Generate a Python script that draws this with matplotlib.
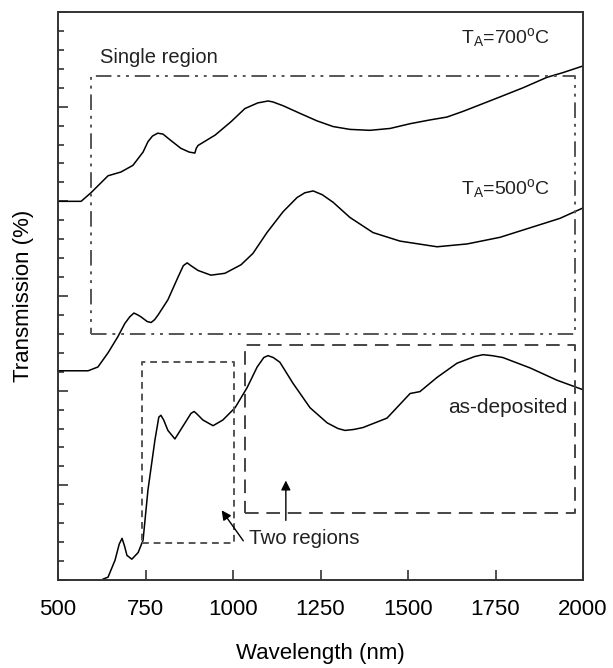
import matplotlib
matplotlib.use("Agg")
import matplotlib.pyplot as plt
from matplotlib.ticker import MultipleLocator, NullFormatter

plt.rcParams['font.family'] = ['Liberation Sans', 'DejaVu Sans']
plt.rcParams['mathtext.fontset'] = 'custom'
plt.rcParams['mathtext.rm'] = 'Liberation Sans'
plt.rcParams['mathtext.it'] = 'Liberation Sans'

# ---- data (transmission in arbitrary offset units) ----
wl_700 = [500, 566, 594, 643, 680, 714, 743, 757, 770, 785, 800, 820, 851, 875, 891, 895,
          900, 949, 994, 1034, 1071, 1086, 1100, 1114, 1143, 1191, 1240, 1286, 1334,
          1391, 1449, 1506, 1563, 1611, 1657, 1754, 1829, 1897, 1943, 2000]
tr_700 = [40.0, 40.0, 40.9, 42.7, 43.1, 43.8, 45.2, 46.3, 46.9, 47.2, 47.1, 46.5, 45.6,
          45.2, 45.1, 45.6, 45.9, 47.0, 48.4, 49.8, 50.4, 50.5, 50.6, 50.5, 50.1, 49.3,
          48.5, 47.9, 47.6, 47.5, 47.7, 48.2, 48.6, 48.9, 49.5, 50.9, 52.0, 53.1, 53.6,
          54.3]

wl_500 = [500, 586, 614, 643, 671, 691, 705, 717, 728, 737, 755, 766, 776, 786, 814, 843,
          858, 869, 880, 900, 937, 977, 1023, 1057, 1097, 1143, 1183, 1205, 1229, 1255,
          1286, 1334, 1400, 1477, 1583, 1669, 1763, 1857, 1934, 2000]
tr_500 = [22.1, 22.1, 22.5, 24.0, 25.7, 27.1, 27.8, 28.2, 28.0, 27.8, 27.3, 27.2, 27.5,
          28.0, 29.6, 32.0, 33.2, 33.5, 33.2, 32.7, 32.2, 32.4, 33.3, 34.5, 36.7, 38.9,
          40.4, 40.9, 41.1, 40.7, 39.9, 38.3, 36.7, 35.8, 35.2, 35.5, 36.2, 37.3, 38.2,
          39.3]

wl_dep = [629, 643, 663, 675, 683, 690, 697, 711, 729, 743, 757, 777, 788, 794, 802, 814,
          834, 863, 880, 889, 898, 914, 943, 971, 1006, 1040, 1069, 1088, 1100, 1115,
          1134, 1171, 1220, 1269, 1300, 1320, 1345, 1371, 1440, 1506, 1534, 1583, 1640,
          1690, 1714, 1740, 1771, 1849, 1926, 2000]
tr_dep = [0.1, 0.3, 2.1, 3.8, 4.4, 3.6, 2.6, 2.2, 2.9, 4.2, 9.5, 14.8, 17.2, 17.4, 16.9,
          15.8, 14.9, 16.6, 17.6, 17.8, 17.5, 16.9, 16.3, 16.9, 18.2, 20.3, 22.5, 23.5,
          23.7, 23.5, 23.0, 20.8, 18.2, 16.6, 16.0, 15.8, 15.9, 16.1, 17.1, 19.7, 19.9,
          21.4, 22.9, 23.6, 23.8, 23.7, 23.5, 22.4, 21.1, 20.1]

# region boxes: (x0, x1, y0, y1)
box_single = (594, 1977, 26.0, 53.2)
box_two_a = (740, 1003, 3.9, 23.0)
box_two_b = (1034, 1977, 7.1, 24.8)

x_ticks = [500, 750, 1000, 1250, 1500, 1750, 2000]

fig = plt.figure(figsize=(6.13, 6.68), dpi=100)
ax = fig.add_axes([58/613, 1-580/668, (583-58)/613, (580-12)/668])

for wl, tr in [(wl_700, tr_700), (wl_500, tr_500), (wl_dep, tr_dep)]:
    ax.plot(wl, tr, color='black', lw=1.1, solid_joinstyle='round')

def box(b, **kw):
    x0, x1, y0, y1 = b
    ax.plot([x0, x1, x1, x0, x0], [y0, y0, y1, y1, y0], **kw)

box(box_single, color='#555555', lw=1.4, dashes=[8, 3, 1.5, 3, 1.5, 3])
box(box_two_a, color='#555555', lw=1.4, dashes=[3.5, 2.5])
box(box_two_b, color='#444444', lw=1.4, dashes=[7, 4])

tc = '#222222'
ax.text(620, 55.2, 'Single region', fontsize=14.5, va='center', ha='left', color=tc)
ax.text(1652, 57.3, r'T$_\mathrm{A}$=700$^\mathrm{o}$C', fontsize=14, va='center', ha='left', color=tc)
ax.text(1652, 41.4, r'T$_\mathrm{A}$=500$^\mathrm{o}$C', fontsize=14, va='center', ha='left', color=tc)
ax.text(1957, 18.2, 'as-deposited', fontsize=15, va='center', ha='right', color=tc)
ax.text(1046, 4.4, 'Two regions', fontsize=14.8, va='center', ha='left', color=tc)

ax.annotate('', xy=(963, 7.6), xytext=(1034, 3.9),
            arrowprops=dict(arrowstyle='-|>', color='black', lw=1.0, mutation_scale=14))
ax.annotate('', xy=(1151, 10.8), xytext=(1151, 6.0),
            arrowprops=dict(arrowstyle='-|>', color='black', lw=1.0, mutation_scale=14))

ax.set_xlim(500, 2000)
ax.set_ylim(0, 60)
ax.set_xticks(x_ticks)
ax.set_xticklabels([str(t) for t in x_ticks])
ax.yaxis.set_major_locator(MultipleLocator(10))
ax.yaxis.set_minor_locator(MultipleLocator(2))
ax.yaxis.set_major_formatter(NullFormatter())
ax.tick_params(axis='x', direction='in', length=7, width=1.2, labelsize=16, pad=14, colors='#333333', labelcolor='black')
ax.tick_params(axis='y', which='major', direction='in', length=7, width=1.2, colors='#333333')
ax.tick_params(axis='y', which='minor', direction='in', length=4.5, width=1.2, colors='#333333')
for s in ax.spines.values():
    s.set_color('#333333')
    s.set_linewidth(1.4)

ax.set_xlabel('Wavelength (nm)', fontsize=16, labelpad=16)
ax.set_ylabel('Transmission (%)', fontsize=16, labelpad=14)

fig.savefig('out.png', dpi=100)
